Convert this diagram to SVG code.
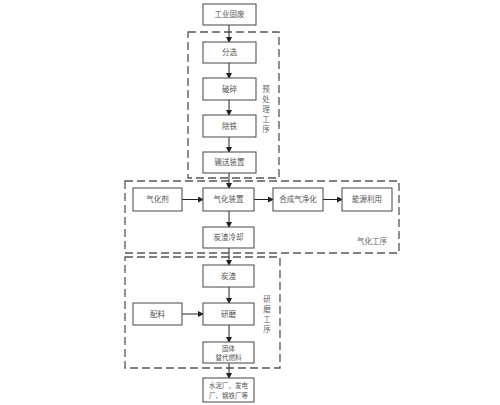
<svg xmlns="http://www.w3.org/2000/svg" width="500" height="405" viewBox="0 0 500 405">
<defs>
<style>
.b{fill:#fff;stroke:#444;stroke-width:1}
.t{font-family:"Noto Sans CJK SC","Noto Sans",sans-serif;font-size:7.5px;fill:#555;text-anchor:middle}
.s{font-size:6.5px}
.l{font-family:"Noto Sans CJK SC","Noto Sans",sans-serif;font-size:7.5px;fill:#666;text-anchor:middle}
.d{fill:none;stroke:#555;stroke-width:1.3;stroke-dasharray:8,4}
.c{stroke:#222;stroke-width:1;fill:none;marker-end:url(#a)}
</style>
<marker id="a" markerWidth="6" markerHeight="6" refX="5" refY="3" orient="auto" markerUnits="userSpaceOnUse">
<path d="M0,0 L6,3 L0,6 z" fill="#222"/>
</marker>
</defs>
<rect width="500" height="405" fill="#fff"/>
<g id="zones">
<rect class="d" x="188" y="32" width="91" height="146"/>
<rect class="d" x="125" y="181" width="274" height="72"/>
<rect class="d" x="125" y="257" width="155" height="111"/>
<text class="l" x="266" y="92">预</text>
<text class="l" x="266" y="102">处</text>
<text class="l" x="266" y="112">理</text>
<text class="l" x="266" y="122">工</text>
<text class="l" x="266" y="132">序</text>
<text class="l" x="372" y="244">气化工序</text>
<text class="l" x="267" y="302">研</text>
<text class="l" x="267" y="312">磨</text>
<text class="l" x="267" y="322">工</text>
<text class="l" x="267" y="332">序</text>
</g>
<g id="connectors">
<path class="c" d="M229,25 V42"/>
<path class="c" d="M229,63 V78"/>
<path class="c" d="M229,100 V115"/>
<path class="c" d="M229,137 V152"/>
<path class="c" d="M229,173 V188"/>
<path class="c" d="M182,199.5 H203"/>
<path class="c" d="M254,199.5 H273"/>
<path class="c" d="M323,199.5 H342"/>
<path class="c" d="M229,211 V227"/>
<path class="c" d="M229,248 V265"/>
<path class="c" d="M229,287 V303"/>
<path class="c" d="M182,314 H203"/>
<path class="c" d="M229,325 V342"/>
<path class="c" d="M229,363 V378"/>
</g>
<g id="n1"><rect class="b" x="203" y="4" width="53" height="21"/><text class="t" x="229.5" y="17">工业固废</text></g>
<g id="n2"><rect class="b" x="203" y="42" width="53" height="21"/><text class="t" x="229.5" y="55">分选</text></g>
<g id="n3"><rect class="b" x="203" y="78" width="53" height="22"/><text class="t" x="229.5" y="91.5">破碎</text></g>
<g id="n4"><rect class="b" x="203" y="115" width="53" height="22"/><text class="t" x="229.5" y="128.5">除铁</text></g>
<g id="n5"><rect class="b" x="203" y="152" width="53" height="21"/><text class="t" x="229.5" y="165">输送装置</text></g>
<g id="n6"><rect class="b" x="133" y="188" width="49" height="23"/><text class="t" x="157.5" y="202">气化剂</text></g>
<g id="n7"><rect class="b" x="203" y="188" width="51" height="23"/><text class="t" x="228.5" y="202">气化装置</text></g>
<g id="n8"><rect class="b" x="273" y="188" width="50" height="23"/><text class="t" x="298" y="202">合成气净化</text></g>
<g id="n9"><rect class="b" x="342" y="188" width="50" height="23"/><text class="t" x="367" y="202">能源利用</text></g>
<g id="n10"><rect class="b" x="203" y="227" width="51" height="21"/><text class="t" x="228.5" y="240">炭渣冷却</text></g>
<g id="n11"><rect class="b" x="203" y="265" width="51" height="22"/><text class="t" x="228.5" y="278.5">炭渣</text></g>
<g id="n12"><rect class="b" x="133" y="303" width="49" height="22"/><text class="t" x="157.5" y="316.5">配料</text></g>
<g id="n13"><rect class="b" x="203" y="303" width="51" height="22"/><text class="t" x="228.5" y="316.5">研磨</text></g>
<g id="n14"><rect class="b" x="203" y="342" width="51" height="21"/><text class="t s" x="228.5" y="350.5">固体</text><text class="t s" x="228.5" y="360">替代燃料</text></g>
<g id="n15"><rect class="b" x="203" y="378" width="51" height="24"/><text class="t s" x="228.5" y="388">水泥厂、发电</text><text class="t s" x="228.5" y="398">厂、钢铁厂等</text></g>
</svg>
